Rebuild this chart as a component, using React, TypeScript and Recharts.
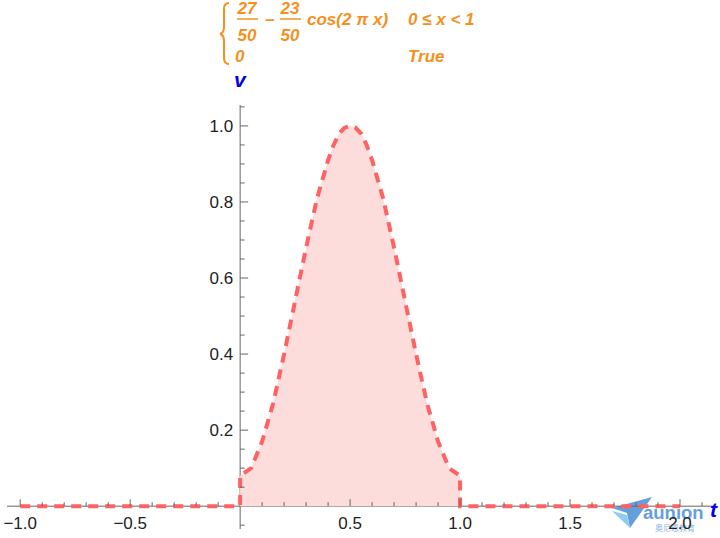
import React from 'react'
import { ComposedChart, Area, XAxis, YAxis, ReferenceLine } from 'recharts'

const tValues = [-1, 0, 0, 0.05, 0.1, 0.15, 0.2, 0.25, 0.3, 0.35, 0.4, 0.425, 0.45, 0.475, 0.5, 0.525, 0.55, 0.575, 0.6, 0.65, 0.7, 0.75, 0.8, 0.85, 0.9, 0.95, 1, 1, 2]
const vValues = [0, 0, 0.08, 0.1, 0.17, 0.27, 0.4, 0.54, 0.68, 0.81, 0.91, 0.95, 0.98, 0.995, 1, 0.995, 0.98, 0.95, 0.91, 0.81, 0.68, 0.54, 0.4, 0.27, 0.17, 0.1, 0.08, 0, 0]

const xTicks = [-1, -0.9, -0.8, -0.7, -0.6, -0.5, -0.4, -0.3, -0.2, -0.1, 0.1, 0.2, 0.3, 0.4, 0.5, 0.6, 0.7, 0.8, 0.9, 1, 1.1, 1.2, 1.3, 1.4, 1.5, 1.6, 1.7, 1.8, 1.9, 2, 2.1]
const xLabels = [-1, -0.5, 0.5, 1, 1.5, 2]
const yTicks = [-0.05, 0.05, 0.1, 0.15, 0.2, 0.25, 0.3, 0.35, 0.4, 0.45, 0.5, 0.55, 0.6, 0.65, 0.7, 0.75, 0.8, 0.85, 0.9, 0.95, 1, 1.05]
const yLabels = [0.2, 0.4, 0.6, 0.8, 1]

const data = tValues.map((t, i) => ({ t, v: vValues[i] }))

const W = 720
const H = 538
const X_DOMAIN: [number, number] = [-1.06, 2.15]
const Y_DOMAIN: [number, number] = [-0.06, 1.055]
// plot area: left 7, right 713, top 105, bottom 529 (axes take 1px each)
const MARGIN = { top: 105, right: 7, bottom: 8, left: 6 }
const PLOT = { left: 7, right: 713, top: 105, bottom: 529 }

// where the axes cross (value 0) in pixels
const ZERO_X = PLOT.left + ((0 - X_DOMAIN[0]) / (X_DOMAIN[1] - X_DOMAIN[0])) * (PLOT.right - PLOT.left)
const ZERO_Y = PLOT.top + ((Y_DOMAIN[1] - 0) / (Y_DOMAIN[1] - Y_DOMAIN[0])) * (PLOT.bottom - PLOT.top)

const AXIS = '#666'
const LINE = '#ff6262'
const ORANGE = '#f5901e'
const FONT = '"Liberation Sans", Arial, sans-serif'

const fmt = (v: number) => (v < 0 ? '\u2212' : '') + Math.abs(v).toFixed(1)
const has = (arr: number[], v: number) => arr.some(a => Math.abs(a - v) < 1e-9)

const renderXTick = (props: any) => {
  const { x, payload } = props
  const major = has(xLabels, payload.value)
  return (
    <g key={'x' + payload.value}>
      <line x1={x} x2={x} y1={ZERO_Y} y2={ZERO_Y - (major ? 7 : 4)} stroke={AXIS} strokeWidth={1} />
      {major && (
        <text x={x} y={ZERO_Y + 23} textAnchor="middle" fontSize={17} fontFamily={FONT} fill="#222">
          {fmt(payload.value)}
        </text>
      )}
    </g>
  )
}

const renderYTick = (props: any) => {
  const { y, payload } = props
  const major = has(yLabels, payload.value)
  return (
    <g key={'y' + payload.value}>
      <line x1={ZERO_X} x2={ZERO_X + (major ? 8 : 4.5)} y1={y} y2={y} stroke={AXIS} strokeWidth={1} />
      {major && (
        <text x={ZERO_X - 7} y={y + 6} textAnchor="end" fontSize={17} fontFamily={FONT} fill="#222">
          {fmt(payload.value)}
        </text>
      )}
    </g>
  )
}

function Watermark() {
  return (
    <svg width={W} height={H} style={{ position: 'absolute', left: 0, top: 0, pointerEvents: 'none' }}>
      <g opacity={0.85}>
        <polygon points="612,508 652,497 630,528 627,513" fill="#4a8fd8" />
        <polygon points="612,511 627,515 630,528" fill="#7cc4ec" />
        <text x={643} y={519} fontFamily={FONT} fontWeight={700} fontSize={18.5} fill="#4a8fd8">aunion</text>
        <text x={655} y={531} fontFamily='"Noto Sans CJK SC", sans-serif' fontSize={8} fill="#7aa9e0">奥尼恩教育</text>
      </g>
    </svg>
  )
}

function Overlay() {
  const t = { fontFamily: FONT, fontWeight: 700, fontStyle: 'italic' as const, fontSize: 17, fill: ORANGE }
  return (
    <svg width={W} height={H} style={{ position: 'absolute', left: 0, top: 0, pointerEvents: 'none' }}>
      {/* piecewise brace */}
      <path d="M229,3 Q224,3 224,9 L224,27 Q224,33 220,34 Q224,35 224,41 L224,58 Q224,64 229,64" fill="none" stroke={ORANGE} strokeWidth={2} />
      <text {...t} x={247} y={14} textAnchor="middle">27</text>
      <line x1={237} x2={258} y1={19} y2={19} stroke={ORANGE} strokeWidth={1.5} />
      <text {...t} x={247} y={41} textAnchor="middle">50</text>
      <text {...t} x={270} y={25} textAnchor="middle">{'\u2013'}</text>
      <text {...t} x={290} y={14} textAnchor="middle">23</text>
      <line x1={280} x2={301} y1={19} y2={19} stroke={ORANGE} strokeWidth={1.5} />
      <text {...t} x={290} y={41} textAnchor="middle">50</text>
      <text {...t} x={307} y={25}>cos(2 {'\u03c0'} x)</text>
      <text {...t} x={408} y={25}>0 {'\u2264'} x {'<'} 1</text>
      <text {...t} x={235} y={62}>0</text>
      <text {...t} x={408} y={62}>True</text>

      {/* axis names */}
      <text x={234} y={87} fontFamily={FONT} fontWeight={700} fontStyle="italic" fontSize={21} fill="#0000ee">v</text>
      <text x={710} y={517} fontFamily={FONT} fontWeight={700} fontStyle="italic" fontSize={21} fill="#0000ee">t</text>
    </svg>
  )
}

export default function App() {
  return (
    <div style={{ position: 'absolute', left: 0, top: 0, width: W, height: H, background: '#fff' }}>
      <Watermark />
      <div style={{ position: 'absolute', left: 0, top: 0 }}>
        <ComposedChart width={W} height={H} data={data} margin={MARGIN}>
          <XAxis
            dataKey="t"
            type="number"
            domain={X_DOMAIN}
            allowDataOverflow
            ticks={xTicks}
            interval={0}
            height={1}
            axisLine={false}
            tickLine={false}
            tick={renderXTick}
          />
          <YAxis
            type="number"
            domain={Y_DOMAIN}
            allowDataOverflow
            ticks={yTicks}
            interval={0}
            width={1}
            axisLine={false}
            tickLine={false}
            tick={renderYTick}
          />
          <ReferenceLine y={0} stroke={AXIS} strokeWidth={1} zIndex={50} />
          <ReferenceLine x={0} stroke={AXIS} strokeWidth={1} zIndex={50} />
          <Area
            type="linear"
            dataKey="v"
            baseValue={0}
            stroke={LINE}
            strokeWidth={4}
            strokeDasharray="10 7"
            fill="#fddcdc"
            fillOpacity={1}
            dot={false}
            activeDot={false}
            isAnimationActive={false}
          />
        </ComposedChart>
      </div>
      <Overlay />
    </div>
  )
}
